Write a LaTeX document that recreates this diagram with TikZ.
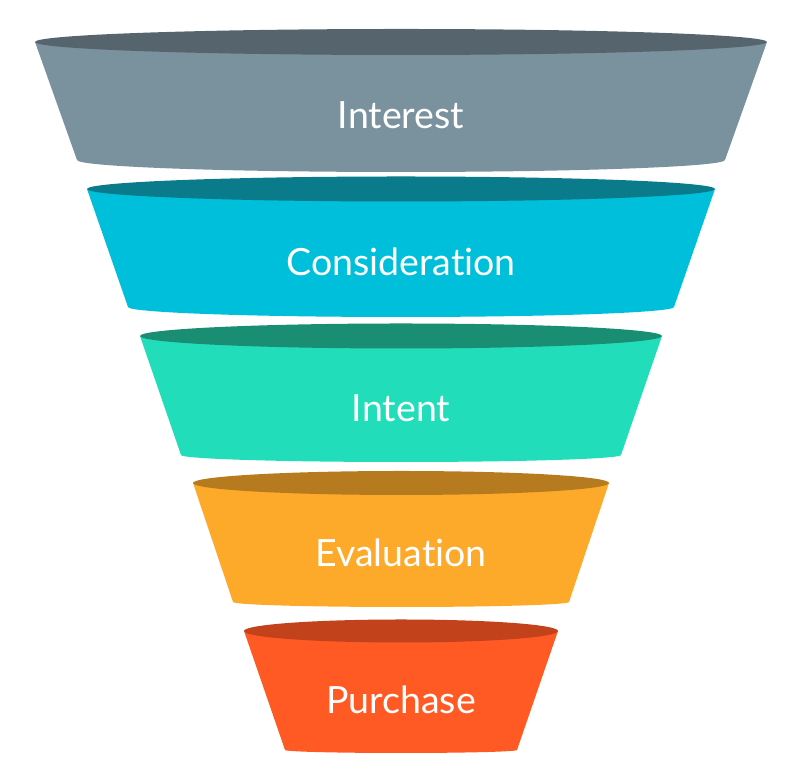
\documentclass[tikz,border=0pt]{standalone}
\usepackage{fontspec}
\setmainfont{Lato}[Ligatures=NoCommon]
\usepackage{tikz}

\definecolor{interestbody}{HTML}{7A929E}
\definecolor{interesttop}{HTML}{56656D}
\definecolor{considerbody}{HTML}{00BFDA}
\definecolor{considertop}{HTML}{0A7B8A}
\definecolor{intentbody}{HTML}{22DDBA}
\definecolor{intenttop}{HTML}{1A8E73}
\definecolor{evalbody}{HTML}{FDA92A}
\definecolor{evaltop}{HTML}{B77B1F}
\definecolor{purchbody}{HTML}{FF5A24}
\definecolor{purchtop}{HTML}{C2421B}

\begin{document}
\begin{tikzpicture}[x=1pt,y=1pt,
  stagetext/.style={text=white,inner sep=0pt,font=\fontsize{37.5}{42}\selectfont}]

\useasboundingbox (0,0) rectangle (806,783);

%Drawing Interest
\fill[interestbody] (35,741)--(77,623) arc[start angle=180,end angle=360,x radius=324,y radius=12]--(767,741)--cycle;
\fill[interesttop] (401,741) ellipse[x radius=366,y radius=13];
\node[stagetext] (interest) at (401,668) {Interest};

%Drawing Consideration
\fill[considerbody] (87,594)--(128,476) arc[start angle=180,end angle=360,x radius=273,y radius=10]--(715,594)--cycle;
\fill[considertop] (401,594) ellipse[x radius=314,y radius=12.5];
\node[stagetext] (consideration) at (401,521) {Consideration};

%Drawing Intent
\fill[intentbody] (140,447)--(181,328) arc[start angle=180,end angle=360,x radius=220,y radius=7]--(662,447)--cycle;
\fill[intenttop] (401,447) ellipse[x radius=261,y radius=12.5];
\node[stagetext] (intent) at (401,375) {Intent};

%Drawing Evaluation
\fill[evalbody] (193,300)--(233,181) arc[start angle=180,end angle=360,x radius=168,y radius=5]--(609,300)--cycle;
\fill[evaltop] (401,300) ellipse[x radius=208,y radius=12];
\node[stagetext] (evaluation) at (401,230) {Evaluation};

%Drawing Purchase
\fill[purchbody] (244,152)--(285,33) arc[start angle=180,end angle=360,x radius=116,y radius=3]--(558,152)--cycle;
\fill[purchtop] (401,152) ellipse[x radius=157,y radius=11.5];
\node[stagetext] (purchase) at (401,83) {Purchase};

\end{tikzpicture}
\end{document}
